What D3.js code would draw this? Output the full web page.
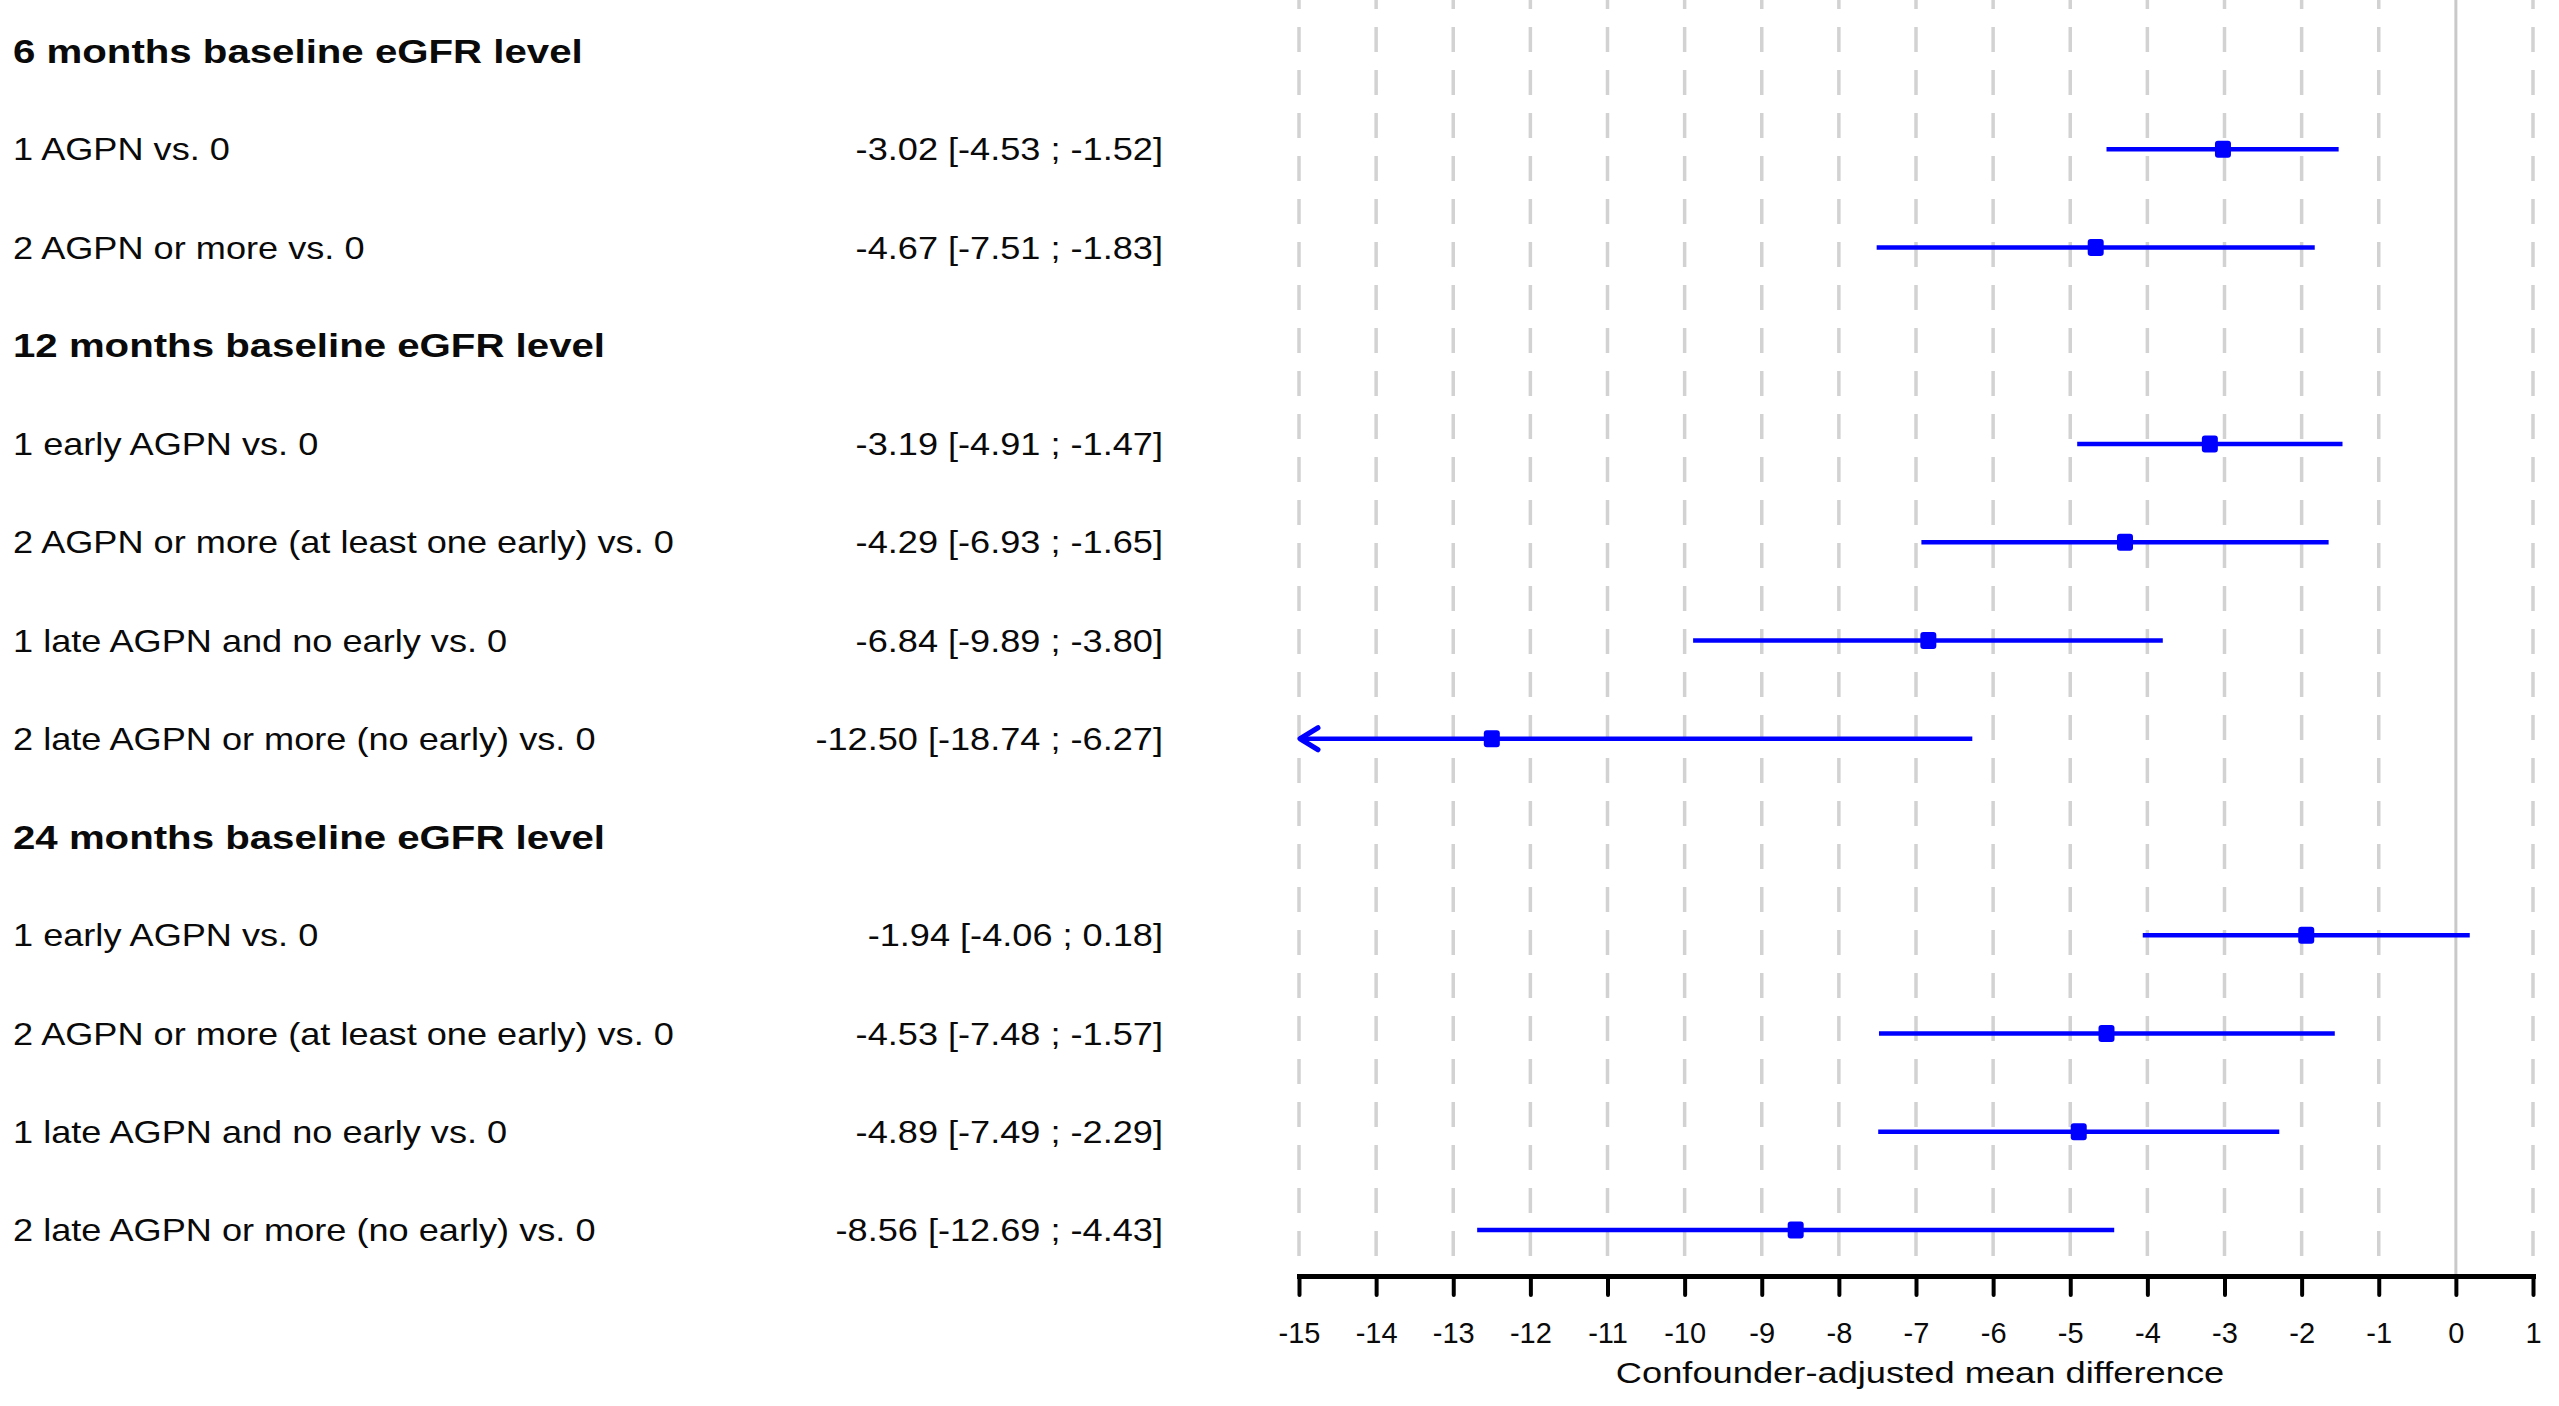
<!DOCTYPE html>
<html>
<head>
<meta charset="utf-8">
<script src="https://cdn.jsdelivr.net/npm/d3@7"></script>
<style>
  body { margin: 0; background: #ffffff; }
  svg { display: block; }
</style>
</head>
<body>
<script>
// group headers and the comparisons below each one
var groups = ["6 months baseline eGFR level", "12 months baseline eGFR level", "24 months baseline eGFR level"];
var comparisons = [
  "1 AGPN vs. 0",
  "2 AGPN or more vs. 0",
  "1 early AGPN vs. 0",
  "2 AGPN or more (at least one early) vs. 0",
  "1 late AGPN and no early vs. 0",
  "2 late AGPN or more (no early) vs. 0",
  "1 early AGPN vs. 0",
  "2 AGPN or more (at least one early) vs. 0",
  "1 late AGPN and no early vs. 0",
  "2 late AGPN or more (no early) vs. 0"
];
var compGroup = [0, 0, 1, 1, 1, 1, 2, 2, 2, 2];
var estimate = [-3.02, -4.67, -3.19, -4.29, -6.84, -12.50, -1.94, -4.53, -4.89, -8.56];
var lower    = [-4.53, -7.51, -4.91, -6.93, -9.89, -18.74, -4.06, -7.48, -7.49, -12.69];
var upper    = [-1.52, -1.83, -1.47, -1.65, -3.80, -6.27, 0.18, -1.57, -2.29, -4.43];
var xTicks = [-15, -14, -13, -12, -11, -10, -9, -8, -7, -6, -5, -4, -3, -2, -1, 0, 1];
var axisTitle = "Confounder-adjusted mean difference";

var width = 2559;
var height = 1406;
var axisY = 1276;

// build the row list: header rows then study rows
var rows = [];
groups.forEach(function(g, gi) {
  rows.push({type: "header", text: g});
  comparisons.forEach(function(c, i) {
    if (compGroup[i] === gi) {
      rows.push({type: "row", text: c, est: estimate[i], lo: lower[i], hi: upper[i]});
    }
  });
});

var svg = d3.select("body").append("svg")
  .attr("width", width)
  .attr("height", height)
  .style("background-color", "#ffffff");

var x = d3.scaleLinear()
  .domain([xTicks[0], xTicks[xTicks.length - 1]])
  .range([1299, 2533]);

var y = d3.scaleLinear()
  .domain([0, rows.length - 1])
  .range([51, 1230]);

// plain hyphen for negatives, like the original
var f2 = function(v) { return d3.format(".2f")(v).replace("\u2212", "-"); };

// grid lines
svg.append("g").selectAll("line")
  .data(xTicks)
  .enter()
  .append("line")
  .attr("x1", function(d) { return x(d); })
  .attr("x2", function(d) { return x(d); })
  .attr("y1", 0)
  .attr("y2", axisY)
  .attr("stroke", function(d) { return d === 0 ? "#c9c9c9" : "#d2d2d2"; })
  .attr("stroke-width", function(d) { return d === 0 ? 3 : 3.5; })
  .attr("stroke-dasharray", function(d) { return d === 0 ? null : "25,18"; })
  .attr("stroke-dashoffset", 16);

// left labels
svg.append("g").selectAll("text")
  .data(rows)
  .enter()
  .append("text")
  .text(function(d) { return d.text; })
  .attr("transform", function(d, i) {
    return "translate(13," + y(i) + ") scale(" + (d.type === "header" ? 1.2 : 1.13) + ",1)";
  })
  .attr("dy", "0.35em")
  .attr("font-family", "Liberation Sans, Arial, sans-serif")
  .attr("font-size", function(d) { return d.type === "header" ? 33.5 : 32; })
  .attr("font-weight", function(d) { return d.type === "header" ? "bold" : "normal"; })
  .attr("fill", "#0a0a0a");

var dataRows = rows.map(function(d, i) { d.idx = i; return d; })
  .filter(function(d) { return d.type === "row"; });

// estimate text
svg.append("g").selectAll("text")
  .data(dataRows)
  .enter()
  .append("text")
  .text(function(d) { return f2(d.est) + " [" + f2(d.lo) + " ; " + f2(d.hi) + "]"; })
  .attr("transform", function(d) { return "translate(1163," + y(d.idx) + ") scale(1.13,1)"; })
  .attr("dy", "0.35em")
  .attr("text-anchor", "end")
  .attr("font-family", "Liberation Sans, Arial, sans-serif")
  .attr("font-size", 32)
  .attr("fill", "#0a0a0a");

var xMin = x.domain()[0], xMax = x.domain()[1];

// confidence intervals
svg.append("g").selectAll("line")
  .data(dataRows)
  .enter()
  .append("line")
  .attr("x1", function(d) { return x(Math.max(d.lo, xMin)); })
  .attr("x2", function(d) { return x(Math.min(d.hi, xMax)); })
  .attr("y1", function(d) { return y(d.idx); })
  .attr("y2", function(d) { return y(d.idx); })
  .attr("stroke", "#0000ff")
  .attr("stroke-width", 4.5);

// arrows for clipped intervals
svg.append("g").selectAll("path")
  .data(dataRows.filter(function(d) { return d.lo < xMin; }))
  .enter()
  .append("path")
  .attr("d", function(d) {
    var x0 = x(xMin), y0 = y(d.idx);
    return "M" + (x0 + 19) + "," + (y0 - 11) + "L" + (x0 + 1) + "," + y0 + "L" + (x0 + 19) + "," + (y0 + 11);
  })
  .attr("fill", "none")
  .attr("stroke", "#0000ff")
  .attr("stroke-width", 5)
  .attr("stroke-linecap", "round")
  .attr("stroke-linejoin", "round");

// point estimates
svg.append("g").selectAll("rect")
  .data(dataRows)
  .enter()
  .append("rect")
  .attr("x", function(d) { return x(d.est) - 8; })
  .attr("y", function(d) { return y(d.idx) - 8.5; })
  .attr("width", 16)
  .attr("height", 17)
  .attr("rx", 3)
  .attr("fill", "#0000ff");

// x axis
var axis = svg.append("g")
  .attr("transform", "translate(0," + axisY + ")")
  .call(d3.axisBottom(x).tickValues(xTicks).tickSize(19).tickSizeOuter(0).tickPadding(27)
    .tickFormat(function(d) { return String(d); }));

axis.select(".domain")
  .attr("stroke", "#000000")
  .attr("stroke-width", 5)
  .attr("stroke-linecap", "square");
axis.selectAll(".tick line")
  .attr("stroke", "#000000")
  .attr("stroke-width", 4)
  .attr("stroke-linecap", "round");
axis.selectAll(".tick text")
  .attr("font-family", "Liberation Sans, Arial, sans-serif")
  .attr("font-size", 29)
  .attr("fill", "#0a0a0a");

svg.append("text")
  .text(axisTitle)
  .attr("transform", "translate(" + ((x.range()[0] + x.range()[1]) / 2 + 4) + ",1383) scale(1.21,1)")
  .attr("text-anchor", "middle")
  .attr("font-family", "Liberation Sans, Arial, sans-serif")
  .attr("font-size", 30)
  .attr("fill", "#0a0a0a");
</script>
</body>
</html>
